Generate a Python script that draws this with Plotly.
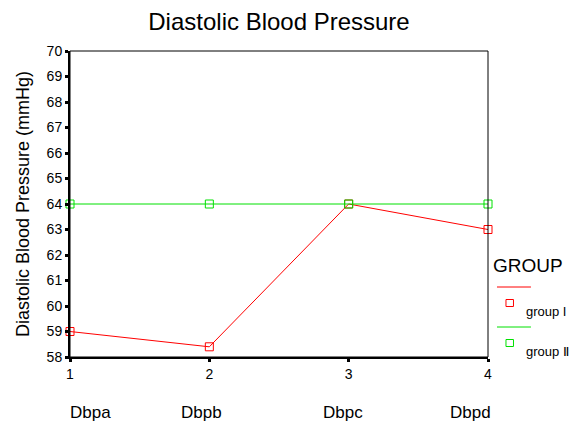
import plotly.graph_objects as go

x_vals = [1, 2, 3, 4]
group1 = [59, 58.4, 64, 63]
group2 = [64, 64, 64, 64]
categories = ["Dbpa", "Dbpb", "Dbpc", "Dbpd"]
y_ticks = list(range(58, 71))

FONT = "Liberation Sans, Arial, sans-serif"
RED = "#FF0000"
GREEN = "#00E000"

fig = go.Figure()
fig.add_trace(go.Scatter(x=x_vals, y=group1, mode="lines+markers", name="group I",
                         line=dict(color=RED, width=1),
                         marker=dict(symbol="square-open", size=8, color=RED, line=dict(width=1)),
                         cliponaxis=False))
fig.add_trace(go.Scatter(x=x_vals, y=group2, mode="lines+markers", name="group II",
                         line=dict(color=GREEN, width=1),
                         marker=dict(symbol="square-open", size=8, color=GREEN, line=dict(width=1)),
                         cliponaxis=False))

L, R, T, B = 69.5, 88, 51, 66
W, H = 576, 423
pw = W - L - R
ph = H - T - B

fig.update_layout(
    width=W, height=H,
    margin=dict(l=L, r=R, t=T, b=B, pad=0, autoexpand=False),
    paper_bgcolor="white", plot_bgcolor="white",
    showlegend=False,
    font=dict(family=FONT, color="black"),
    title=dict(text="Diastolic Blood Pressure", x=279 / W, xanchor="center",
               y=1 - 22 / H, yanchor="middle", font=dict(size=24, family=FONT)),
    xaxis=dict(range=[1, 4], tickvals=x_vals, ticktext=[str(v) for v in x_vals],
               showgrid=False, zeroline=False, showline=True, linecolor="black", linewidth=2,
               ticks="outside", ticklen=3, tickwidth=3, tickcolor="black",
               tickfont=dict(size=14, family=FONT), automargin=False),
    yaxis=dict(range=[58, 70], tickvals=y_ticks, ticktext=[str(v) for v in y_ticks],
               showgrid=False, zeroline=False, showline=True, linecolor="black", linewidth=2,
               ticks="outside", ticklen=3, tickwidth=3, tickcolor="black",
               tickfont=dict(size=14, family=FONT), automargin=False,
               title=dict(text="Diastolic Blood Pressure (mmHg)", font=dict(size=18, family=FONT),
                          standoff=12)),
)

# frame box
fig.add_shape(type="rect", xref="paper", yref="paper", x0=0, x1=1, y0=0, y1=1,
              line=dict(color="black", width=1))

def px_to_paper(px, py):
    return (px - L) / pw, 1 - (py - T) / ph

# category labels under axis
cat_centers = [90, 201, 343, 470]
for c, px in zip(categories, cat_centers):
    ax, ay = px_to_paper(px, 412)
    fig.add_annotation(text=c, xref="paper", yref="paper", x=ax, y=ay,
                       xanchor="center", yanchor="middle", showarrow=False,
                       font=dict(size=17, family=FONT))

# custom legend
gx, gy = px_to_paper(491, 265)
fig.add_annotation(text="GROUP", xref="paper", yref="paper", x=gx, y=gy,
                   xanchor="left", yanchor="middle", showarrow=False,
                   font=dict(size=19, family=FONT))
legend_items = [("group I", RED, 287), ("group Ⅱ", GREEN, 327)]
for name, col, ly in legend_items:
    x0, y0 = px_to_paper(497, ly)
    x1, _ = px_to_paper(531, ly)
    fig.add_shape(type="line", xref="paper", yref="paper", x0=x0, x1=x1, y0=y0, y1=y0,
                  line=dict(color=col, width=1))
    mx0, my0 = px_to_paper(506, ly + 12.5)
    mx1, my1 = px_to_paper(513.5, ly + 19.5)
    fig.add_shape(type="rect", xref="paper", yref="paper", x0=mx0, x1=mx1, y0=my0, y1=my1,
                  line=dict(color=col, width=1))
    tx, ty = px_to_paper(524, ly + 24.5)
    fig.add_annotation(text=name, xref="paper", yref="paper", x=tx, y=ty,
                       xanchor="left", yanchor="middle", showarrow=False,
                       font=dict(size=13, family=FONT))

fig.write_html("out.html", config={"displayModeBar": False},
               post_script="document.body.style.margin='0';document.body.style.overflow='hidden';")
